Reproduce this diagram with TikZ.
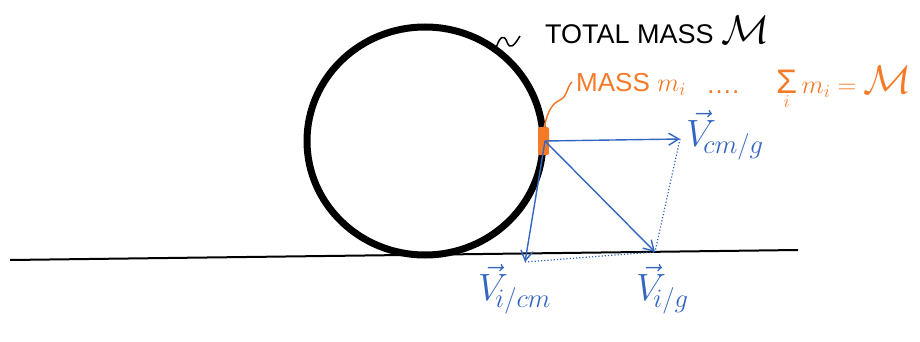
\RequirePackage{fix-cm}
\documentclass[tikz,border=0pt]{standalone}
\usepackage{fontspec}
\setmainfont{Liberation Sans}
\usetikzlibrary{arrows.meta}
\definecolor{ora}{HTML}{F47A28}
\definecolor{blu}{HTML}{3366C0}
\tikzset{
  vec/.style={blu, line width=1.4pt, -{Straight Barb[length=10pt,width=12pt,line width=1.4pt]}},
  dotln/.style={blu, line width=1.2pt, dotted},
  bluetxt/.style={blu, font=\fontsize{38}{40}\selectfont, inner sep=0pt},
  oratxt/.style={ora, font=\fontsize{26}{28}\selectfont, inner sep=0pt, anchor=base west},
}
\begin{document}
\begin{tikzpicture}[x=1pt,y=-1pt]
\useasboundingbox (0,0) rectangle (920,342);
% ground
\draw[line width=2pt] (10,260) coordinate (g1) -- (798,250) coordinate (g2);
% ring
\draw[line width=7pt] (425,141) ellipse [x radius=118, y radius=114];
% total mass
\draw[line width=1.5pt] (496,48) .. controls (500,36) and (504,34) .. (507,42) .. controls (510,50) and (514,46) .. (520,36);
\node[anchor=base west, inner sep=0pt, font=\fontsize{27}{29}\selectfont] (tm) at (545,44) {TOTAL MASS \fontsize{40}{42}\selectfont$\mathcal{M}$};
% orange mass element
\fill[ora, rounded corners=2pt] (538,127) rectangle (549,155);
\coordinate (o) at (545,141);
\draw[ora, line width=1.5pt] (544,128) .. controls (548,110) and (552,104) .. (560,100) .. controls (568,96) and (566,88) .. (572,82);
\node[oratxt] (mi) at (576,92) {MASS $m_i$};
\node[oratxt] (dots) at (706,94) {\dots.};
\node[oratxt] (sum) at (776,94) {$\mathop{\hbox{\fontsize{34}{36}\selectfont Σ}}\limits_i m_i =$ \fontsize{40}{42}\selectfont$\mathcal{M}$};
% vectors
\coordinate (cm) at (680,139);
\coordinate (icm) at (525,262);
\coordinate (ig) at (655,252);
\draw[dotln] (icm) -- (ig);
\draw[dotln] (cm) -- (ig);
\draw[vec] (o) -- (cm);
\draw[vec] (o) -- (icm);
\draw[vec] (o) -- (ig);
\node[bluetxt, anchor=north west] (lcm) at (686,110) {$\vec{V}_{\!cm/g}$};
\node[bluetxt, anchor=north west] (licm) at (478,264) {$\vec{V}_{\!i/cm}$};
\node[bluetxt, anchor=north west] (lig) at (636,264) {$\vec{V}_{\!i/g}$};
\end{tikzpicture}
\end{document}
